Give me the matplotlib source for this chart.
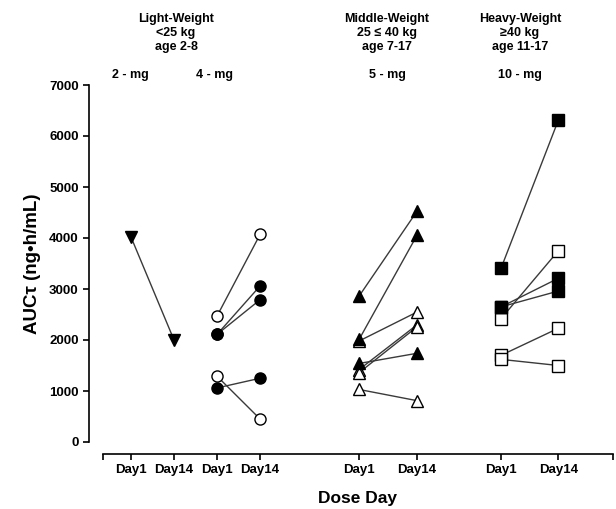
import matplotlib
matplotlib.use("Agg")
import matplotlib.pyplot as plt

plt.rcParams['font.family'] = ['Liberation Sans', 'DejaVu Sans']
plt.rcParams['font.weight'] = 'bold'

# x positions of the day ticks (Day1 / Day14 for each dose)
day_pos = [1, 2, 3, 4, 6.3, 7.65, 9.6, 10.93]
day_labels = ['Day1', 'Day14', 'Day1', 'Day14', 'Day1', 'Day14', 'Day1', 'Day14']

# AUC values (ng*h/mL)
dose2_day1 = [4020]
dose2_day14 = [2000]

dose4_filled_day1 = [2110, 2110, 1060]
dose4_filled_day14 = [3060, 2790, 1250]
dose4_open_day1 = [2470, 1290]
dose4_open_day14 = [4070, 450]

dose5_filled_day1 = [2860, 2010, 1540]
dose5_filled_day14 = [4530, 4060, 1740]
dose5_open_day1 = [1980, 1420, 1360, 1030]
dose5_open_day14 = [2550, 2300, 2260, 810]

dose10_filled_day1 = [3410, 2650, 2650]
dose10_filled_day14 = [6310, 3210, 2960]
dose10_open_day1 = [2420, 1700, 1620]
dose10_open_day14 = [3750, 2230, 1500]

W, H = 616, 509
fig = plt.figure(figsize=(W / 100, H / 100), dpi=100)
# axes box in pixels: x 103..613, y 85..442
ax = fig.add_axes([103 / W, 1 - 442 / H, (613 - 103) / W, (442 - 85) / H])


def pairs(i, v1, v14, marker, filled, ms=8):
    x0, x1 = day_pos[i], day_pos[i + 1]
    for a, b in zip(v1, v14):
        ax.plot([x0, x1], [a, b], color='#3a3a3a', lw=1.0, zorder=1)
        ax.plot([x0, x1], [a, b], ls='none', marker=marker, ms=ms,
                mfc='black' if filled else 'white', mec='black', mew=1.0, zorder=3)


pairs(0, dose2_day1, dose2_day14, 'v', True, 9)
pairs(2, dose4_filled_day1, dose4_filled_day14, 'o', True)
pairs(2, dose4_open_day1, dose4_open_day14, 'o', False)
pairs(4, dose5_open_day1, dose5_open_day14, '^', False, 9)
pairs(4, dose5_filled_day1, dose5_filled_day14, '^', True, 9)
pairs(6, dose10_open_day1, dose10_open_day14, 's', False)
pairs(6, dose10_filled_day1, dose10_filled_day14, 's', True)

ax.set_xlim(0.35, 12.2)
ax.set_ylim(0, 7000)
ax.set_yticks(range(0, 7001, 1000))
ax.set_xticks(day_pos)
ax.set_xticklabels(day_labels)
ax.set_xticks([0.35, 12.2], minor=True)

for s in ['top', 'right']:
    ax.spines[s].set_visible(False)
ax.spines['left'].set_position(('outward', 10))
ax.spines['bottom'].set_position(('outward', 8.6))
ax.spines['left'].set_linewidth(1.2)
ax.spines['bottom'].set_linewidth(1.2)
ax.tick_params(axis='both', which='both', direction='out', length=4, width=1.2,
               labelsize=9.5)
ax.tick_params(axis='x', pad=3)
ax.tick_params(axis='x', which='minor', length=4)
for lab in ax.get_xticklabels() + ax.get_yticklabels():
    lab.set_fontweight('bold')

ax.set_ylabel('AUCτ (ng•h/mL)', fontsize=13.5, fontweight='bold', labelpad=6)
ax.set_xlabel('Dose Day', fontsize=12.5, fontweight='bold', labelpad=11)


def ftext(x, y, s, size=9):
    fig.text(x / W, 1 - y / H, s, ha='center', va='center', fontsize=size,
             fontweight='bold', linespacing=1.25)


ftext(176, 33, 'Light-Weight\n<25 kg\nage 2-8')
ftext(387, 33, 'Middle-Weight\n25 ≤ 40 kg\nage 7-17')
ftext(520, 33, 'Heavy-Weight\n≥40 kg\nage 11-17')
ftext(130, 75, '2 - mg')
ftext(214, 75, '4 - mg')
ftext(387, 75, '5 - mg')
ftext(520, 75, '10 - mg')

fig.savefig('out.png', dpi=100)
